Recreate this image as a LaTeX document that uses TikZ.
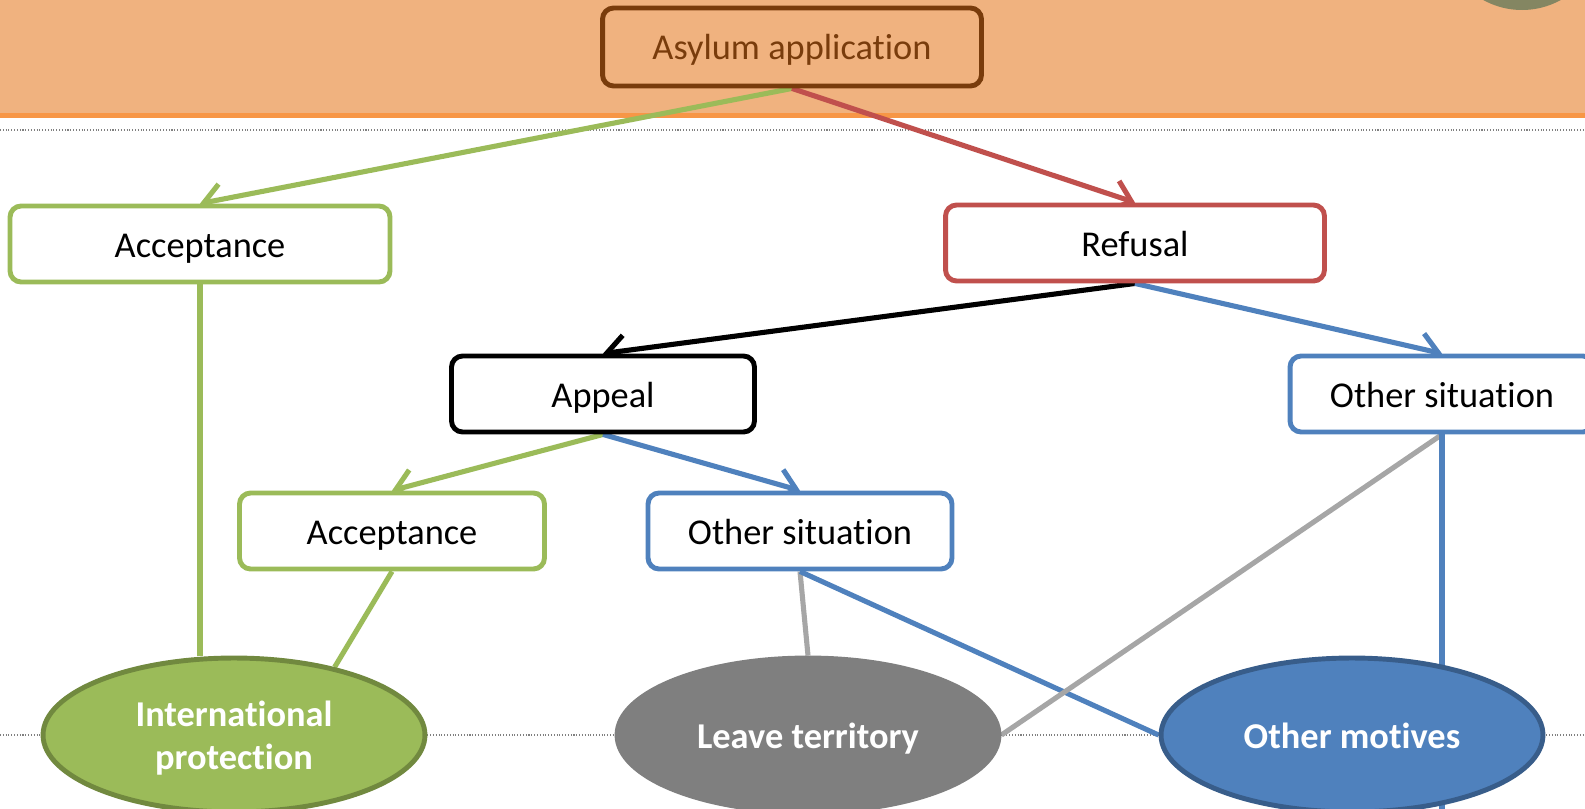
\documentclass[tikz,border=0pt]{standalone}
\usepackage{fontspec}
\setmainfont{Carlito}[Ligatures=NoCommon]
\usepackage{xcolor}
\usepackage{tikz}
\usetikzlibrary{arrows.meta, shapes, positioning, backgrounds}
\definecolor{bandorange}{RGB}{240,178,127}
\definecolor{lineorange}{RGB}{247,150,70}
\definecolor{asybrown}{RGB}{121,60,12}
\definecolor{accgreen}{RGB}{155,187,89}
\definecolor{darkgreen}{RGB}{113,137,63}
\definecolor{refred}{RGB}{192,80,77}
\definecolor{othblue}{RGB}{79,129,189}
\definecolor{darkblue}{RGB}{56,93,138}
\definecolor{leavegray}{RGB}{127,127,127}
\definecolor{linegray}{RGB}{166,166,166}
\definecolor{cornerolive}{RGB}{132,134,98}

\begin{document}
\begin{tikzpicture}[
  x=0.02cm, y=-0.02cm,
  font=\fontsize{20.7}{24.4}\selectfont,
  box/.style={draw, rounded corners=0.22cm, line width=2.8pt, fill=white,
              minimum height=1.52cm, inner sep=0pt,
              text height=0.52cm, text depth=0pt},
  goal/.style={ellipse, line width=2.8pt, text=white, align=center,
               font=\fontsize{20.7}{24.4}\selectfont\bfseries,
               minimum width=7.64cm, minimum height=3.08cm, inner sep=0pt,
               text height=0.52cm, text depth=0pt},
  arr/.style={-{Straight Barb[length=0.36cm, width=0.62cm]}, line width=2.9pt},
  ln/.style={line width=2.9pt},
  sep/.style={densely dotted, gray, line width=0.6pt},
]
\useasboundingbox (0,0) rectangle (1585,808);

% APPLICATION
\node[box, fill=bandorange, draw=asybrown, text=asybrown,
      minimum width=7.58cm, minimum height=1.56cm] (asy) at (792,47) {Asylum application};

% FIRST DECISION
\node[box, draw=accgreen, minimum width=7.6cm]  (acc1) at (200,244)  {Acceptance};
\node[box, draw=refred,   minimum width=7.58cm] (ref)  at (1135,243) {Refusal};

% AFTER REFUSAL
\node[box, draw=black,    minimum width=6.06cm] (app) at (603,394)  {Appeal};
\node[box, draw=othblue,  minimum width=6.08cm] (os2) at (1442,394) {Other situation};

% AFTER APPEAL
\node[box, draw=accgreen, minimum width=6.1cm]  (acc2) at (392,531) {Acceptance};
\node[box, draw=othblue,  minimum width=6.08cm] (os1)  at (800,531) {Other situation};

% OUTCOMES
\node[goal, fill=accgreen,  draw=darkgreen, text height=1.36cm] (intl) at (234,735) {International\\protection};
\node[goal, fill=leavegray, draw=leavegray] (lt)   at (808,735)  {Leave territory};
\node[goal, fill=othblue,   draw=darkblue]  (om)   at (1352,735) {Other motives};
\coordinate (omb) at (1442,812);

\begin{scope}[on background layer]
  % header band
  \fill[bandorange] (0,0) rectangle (1585,113);
  \fill[lineorange] (0,113) rectangle (1585,118);
  \fill[cornerolive] (1522,-70) circle (80);
  \draw[sep] (0,130) -- (1585,130);
  \draw[sep] (0,735) -- (1585,735);

  % decisions
  \draw[arr, accgreen] (asy.south) -- (acc1.north);
  \draw[arr, refred]   (asy.south) -- (ref.north);
  \draw[arr, black]    (ref.south) -- (app.north);
  \draw[arr, othblue]  (ref.south) -- (os2.north);
  \draw[arr, accgreen] (app.south) -- (acc2.north);
  \draw[arr, othblue]  (app.south) -- (os1.north);

  % to outcomes
  \draw[ln, accgreen] (acc1.south) -- (acc1.south |- intl.north);
  \draw[ln, accgreen] (acc2.south) -- (intl.34);
  \draw[ln, linegray] (os1.south) -- (lt.north);
  \draw[ln, othblue]  (os1.south) -- (om.west);
  \draw[ln, linegray] (os2.south) -- (lt.east);
  \draw[ln, othblue]  (os2.south) -- (omb);
\end{scope}
\end{tikzpicture}
\end{document}
